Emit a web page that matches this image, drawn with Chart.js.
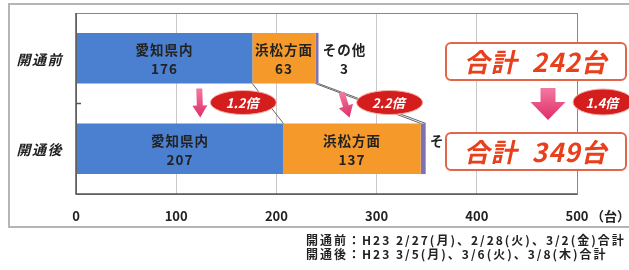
<!DOCTYPE html>
<html>
<head>
<meta charset="utf-8">
<script src="https://cdn.jsdelivr.net/npm/chart.js@4/dist/chart.umd.min.js"></script>
<style>
  html, body { margin: 0; padding: 0; background: #fff; }
  #wrap { width: 629px; height: 270px; }
</style>
</head>
<body>
<div id="wrap"><canvas id="graph_car"></canvas></div>
<script>
var categories = ['開通前', '開通後'];
var seriesNames = ['愛知県内', '浜松方面', 'その他'];
var aichi = [176, 207];
var hamamatsu = [63, 137];
var sonota = [3, 5];
var totals = [242, 349];
var ratios = ['1.2倍', '2.2倍', '1.4倍'];
var xTicks = [0, 100, 200, 300, 400, 500];
var notes = ['開通前：H23 2/27(月)、2/28(火)、3/2(金)合計', '開通後：H23 3/5(月)、3/6(火)、3/8(木)合計'];

var JP = "'Noto Sans CJK JP', 'Noto Sans', sans-serif";

// 斜体風の文字（CJKフォントに斜体がないので傾ける）
function slantText(c, text, x, y, skew) {
    c.save();
    c.translate(x, y);
    c.transform(1, 0, -skew, 1, 0, 0);
    c.fillText(text, 0, 0);
    c.restore();
}

// 矢印
function drawArrow(c, x1, y1, x2, y2, shaft, head, hl) {
    var ang = Math.atan2(y2 - y1, x2 - x1);
    var len = Math.hypot(x2 - x1, y2 - y1);
    c.save();
    c.translate(x1, y1);
    c.rotate(ang);
    var g = c.createLinearGradient(0, 0, len, 0);
    g.addColorStop(0, '#f27aa0');
    g.addColorStop(1, '#e02c68');
    c.fillStyle = g;
    c.beginPath();
    c.moveTo(0, -shaft / 2);
    c.lineTo(len - hl, -shaft / 2);
    c.lineTo(len - hl, -head / 2);
    c.lineTo(len, 0);
    c.lineTo(len - hl, head / 2);
    c.lineTo(len - hl, shaft / 2);
    c.lineTo(0, shaft / 2);
    c.closePath();
    c.fill();
    c.restore();
}

// 倍率の楕円
function drawBadge(c, cx, cy, rx, ry, text) {
    c.save();
    c.beginPath();
    c.ellipse(cx, cy, rx, ry, 0, 0, Math.PI * 2);
    c.fillStyle = '#d41e1e';
    c.fill();
    c.lineWidth = 1;
    c.strokeStyle = '#f4b0a8';
    c.stroke();
    c.fillStyle = '#fff';
    c.font = 'bold 13px ' + JP;
    c.textAlign = 'center';
    c.textBaseline = 'middle';
    slantText(c, text, cx, cy + 1, 0.25);
    c.restore();
}

// 合計の枠
function drawTotal(c, x, y, w, h, num) {
    c.save();
    c.beginPath();
    c.roundRect(x, y, w, h, 5);
    c.fillStyle = '#fff';
    c.fill();
    c.lineWidth = 2;
    c.strokeStyle = '#e2664a';
    c.stroke();
    c.fillStyle = '#e8401c';
    c.font = 'bold 26px ' + JP;
    c.textAlign = 'left';
    c.textBaseline = 'middle';
    c.letterSpacing = '1px';
    slantText(c, '合計', x + 20, y + h / 2 + 1, 0.22);
    slantText(c, num + '台', x + 88, y + h / 2 + 1, 0.22);
    c.restore();
}

var decor = {
    id: 'decor',
    beforeDraw: function (chart) {
        var c = chart.ctx;
        c.save();
        c.fillStyle = '#fff';
        c.fillRect(0, 0, chart.width, chart.height);
        c.strokeStyle = '#b8b4b0';
        c.lineWidth = 2;
        c.strokeRect(9, 4, 640, 223);
        c.restore();
    },
    afterDatasetsDraw: function (chart) {
        var c = chart.ctx;
        var a = chart.chartArea;
        var xs = chart.scales.x;
        var ys = chart.scales.y;
        var m0 = chart.getDatasetMeta(0).data;
        var m1 = chart.getDatasetMeta(1).data;
        var m2 = chart.getDatasetMeta(2).data;

        // 枠
        c.save();
        c.strokeStyle = '#8a8684';
        c.lineWidth = 1;
        c.strokeRect(a.left + 0.5, a.top + 0.5, a.right - a.left, a.bottom - a.top);
        c.strokeStyle = '#555';
        c.lineWidth = 1.5;
        c.beginPath();
        c.moveTo(a.left, a.top);
        c.lineTo(a.left, a.bottom);
        c.lineTo(a.right, a.bottom);
        c.stroke();
        var sepY = (m0[0].y + m0[1].y) / 2;
        c.beginPath();
        c.moveTo(a.left, sepY);
        c.lineTo(a.left + 5, sepY);
        c.stroke();
        c.restore();

        // 項目名
        c.save();
        c.fillStyle = '#222';
        c.font = 'bold 14px ' + JP;
        c.letterSpacing = '1.5px';
        c.textAlign = 'center';
        c.textBaseline = 'middle';
        categories.forEach(function (lab, i) {
            slantText(c, lab, 41, ys.getPixelForValue(i) + 1, 0.25);
        });
        c.restore();

        // 区分線
        c.save();
        c.strokeStyle = '#666';
        c.lineWidth = 1;
        [m0, m1, m2].forEach(function (m) {
            var b0 = m[0], b1 = m[1];
            c.beginPath();
            c.moveTo(b0.x, b0.y + b0.height / 2);
            c.lineTo(b1.x, b1.y - b1.height / 2);
            c.stroke();
        });
        c.restore();

        // データラベル
        c.save();
        c.fillStyle = '#222';
        c.font = 'bold 13.5px ' + JP;
        c.letterSpacing = '1px';
        c.textAlign = 'center';
        c.textBaseline = 'middle';
        [m0, m1].forEach(function (m, i) {
            var vals = i === 0 ? aichi : hamamatsu;
            m.forEach(function (b, j) {
                var cx = (b.x + b.base) / 2;
                c.fillText(seriesNames[i], cx, b.y - 8);
                c.fillText(String(vals[j]), cx, b.y + 11);
            });
        });
        m2.forEach(function (b, j) {
            var cx = b.x + 4 + 22;
            c.fillText(seriesNames[2], cx, b.y - 8);
            c.fillText(String(sonota[j]), cx, b.y + 11);
        });
        c.restore();

        // 矢印と倍率
        var midY = sepY;
        drawArrow(c, xs.getPixelForValue(123), midY - 15, xs.getPixelForValue(124), midY + 14, 6, 15, 12);
        drawArrow(c, xs.getPixelForValue(265), midY - 11, xs.getPixelForValue(273), midY + 14, 6, 15, 12);
        drawBadge(c, xs.getPixelForValue(167), midY - 1, 33, 12, ratios[0]);
        drawBadge(c, xs.getPixelForValue(313), midY - 1, 33, 12, ratios[1]);

        drawTotal(c, 446, 43, 180, 37, totals[0]);
        drawTotal(c, 446, 133, 180, 37, totals[1]);
        drawArrow(c, 548, 88, 548, 120, 15, 35, 18);
        drawBadge(c, 603, 102, 30, 13, ratios[2]);

        // 単位・注記
        c.save();
        c.fillStyle = '#222';
        c.font = 'bold 13px ' + JP;
        c.textAlign = 'left';
        c.textBaseline = 'middle';
        c.fillText('（台）', 591, 216);
        c.font = 'bold 12px ' + JP;
        c.letterSpacing = '2px';
        c.fillText(notes[0], 306, 240);
        c.fillText(notes[1], 306, 254);
        c.restore();
    }
};

var ctx = document.getElementById('graph_car');

var myChart = new Chart(ctx, {
    type: 'bar',
    data: {
        labels: categories,
        datasets: [
            { label: seriesNames[0], data: aichi, backgroundColor: '#4b7fcf' },
            { label: seriesNames[1], data: hamamatsu, backgroundColor: '#f5992a' },
            { label: seriesNames[2], data: sonota, backgroundColor: '#7f72b0' }
        ]
    },
    options: {
        indexAxis: 'y',
        responsive: true,
        maintainAspectRatio: false,
        animation: false,
        events: [],
        layout: {
            padding: { left: 16, right: 52, top: 13, bottom: 0 }
        },
        plugins: {
            legend: { display: false },
            tooltip: { enabled: false }
        },
        datasets: {
            bar: { categoryPercentage: 1, barPercentage: 0.56 }
        },
        scales: {
            x: {
                stacked: true,
                min: 0,
                max: 500,
                afterBuildTicks: function (s) {
                    s.ticks = xTicks.map(function (v) { return { value: v }; });
                },
                afterFit: function (s) { s.height = 76; },
                grid: { color: '#c8c8c8', tickLength: 0, drawTicks: false },
                border: { display: false },
                ticks: {
                    padding: 14,
                    color: '#222',
                    font: { family: JP, size: 13, weight: 'bold' }
                }
            },
            y: {
                stacked: true,
                afterFit: function (s) { s.width = 60; },
                grid: { display: false },
                border: { display: false },
                ticks: { display: false }
            }
        }
    },
    plugins: [decor]
});
</script>
</body>
</html>
